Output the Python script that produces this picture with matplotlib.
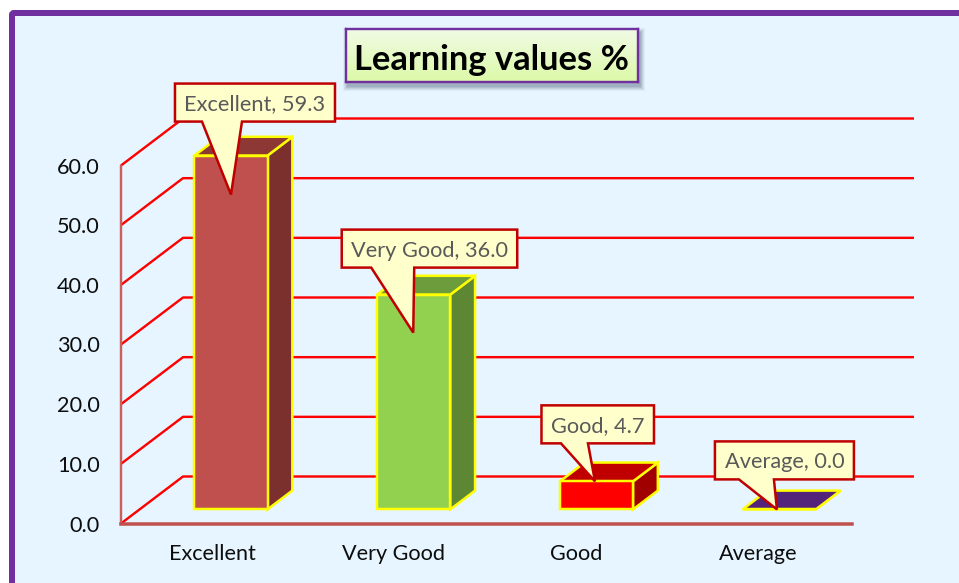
import numpy as np
import matplotlib
matplotlib.use("Agg")
import matplotlib.pyplot as plt
from matplotlib.patches import Polygon, Rectangle, FancyBboxPatch
from matplotlib.transforms import Affine2D

# ---- data ----
categories = ["Excellent", "Very Good", "Good", "Average"]
values = [59.3, 36.0, 4.7, 0.0]
y_ticks = [0, 10, 20, 30, 40, 50, 60]
y_tick_labels = ["0.0", "10.0", "20.0", "30.0", "40.0", "50.0", "60.0"]
title_text = "Learning values %"

# ---- style ----
W, H = 959, 583
front_colors = ["#C0504D", "#92D050", "#FF0000", "#7030A0"]
top_colors = ["#8E3836", "#6D9C3C", "#C00000", "#54247A"]
side_colors = ["#7B302E", "#5E8733", "#A00000", "#54247A"]
BG = "#E6F5FF"
PURPLE = "#7030A0"
plt.rcParams["font.family"] = ["Lato", "DejaVu Sans"]
px = 72 / 100  # points per pixel

fig = plt.figure(figsize=(W / 100, H / 100), dpi=100, facecolor="white")
PIX = Affine2D().scale(1, -1).translate(0, H)  # pixel coordinates, y down

# outer frame
fig.add_artist(FancyBboxPatch((12, 13), 1000, 620, boxstyle="round,pad=0,rounding_size=2",
                              transform=PIX, fc=BG, ec=PURPLE, lw=6 * px, zorder=0))

# main axes: x slots -0.5..3.5 span 121..852 px, y 0..60 spans 523.5..165.5 px
L, R, B, T = 121, 852, 523.5, 165.5
ax = fig.add_axes([L / W, 1 - B / H, (R - L) / W, (B - T) / H], zorder=2)
ax.patch.set_alpha(0)
ax.set_xlim(-0.5, 3.5)
ax.set_ylim(0, 60)
for s in ax.spines.values():
    s.set_visible(False)

DX = 62 / 182.75  # full depth of the 3D floor, in x units
DY = 47 / 5.967   # full depth of the 3D floor, in y units
def proj(x, y, d):
    return x + d * DX, y + d * DY

ax.set_xticks(range(len(categories)), categories)
ax.set_yticks(y_ticks, y_tick_labels)
ax.tick_params(axis="both", length=0, labelsize=15.6, labelcolor="#0D0D0D")
ax.tick_params(axis="x", pad=15)
ax.tick_params(axis="y", pad=15.5)
for lbl, shift in zip(ax.get_xticklabels(), (0, -2, -2, -2)):
    lbl.set_transform(lbl.get_transform() + Affine2D().translate(shift, 0))

# walls and grid
x0, x1 = -0.5, 3.5
for v in y_ticks:
    xs, ys = zip(proj(x0, v, 0), proj(x0, v, 1), proj(x1, v, 1))
    ax.plot(xs, ys, color="#FF0000", lw=2.4 * px, clip_on=False, zorder=2,
            solid_joinstyle="round", solid_capstyle="butt")
ax.plot([x0, x0], [0, 60], color="#C9605D", lw=2.4 * px, clip_on=False, zorder=3)
ax.plot([x0, x1], [0, 0], color="#C0504D", lw=3.5 * px, clip_on=False, zorder=3)

# 3D bars
HALF = 0.2
D0, D1 = 0.30, 0.70
for i, v in enumerate(values):
    a, b = i - HALF, i + HALF
    front = [proj(a, 0, D0), proj(b, 0, D0), proj(b, v, D0), proj(a, v, D0)]
    top = [proj(a, v, D0), proj(b, v, D0), proj(b, v, D1), proj(a, v, D1)]
    side = [proj(b, 0, D0), proj(b, 0, D1), proj(b, v, D1), proj(b, v, D0)]
    for pts, col in ((side, side_colors[i]), (top, top_colors[i]), (front, front_colors[i])):
        ax.add_patch(Polygon(pts, closed=True, fc=col, ec="#FFFF00", lw=2.5 * px,
                             joinstyle="miter", clip_on=False, zorder=5))

# callouts: box and pointer base relative to the pointer tip, in pixels
tip_drop = [39, 38, 0, 0]
tip_shift = [0, -0.5, -1.5, -2.3]
boxes = [(-56, 104, -111, -73, -29, 11),
         (-71.5, 104, -103, -65, -42, 1),
         (-53.5, 59, -76, -38, -34, -7),
         (-62, 77, -68, -30, -38, -3)]
for i, v in enumerate(values):
    dx_, dy_ = ax.transData.transform(proj(i, v, D0))
    tx, ty = dx_ + tip_shift[i], H - dy_ + tip_drop[i]
    l, r, t, b, b0, b1 = boxes[i]
    pts = [(tx + l, ty + t), (tx + r, ty + t), (tx + r, ty + b), (tx + b1, ty + b), (tx, ty),
           (tx + b0, ty + b), (tx + l, ty + b)]
    ax.add_patch(Polygon(pts, closed=True, transform=PIX, fc="#FFFFCC", ec="#C00000",
                         lw=2.5 * px, joinstyle="miter", clip_on=False, zorder=8))
    ax.text(tx + (l + r) / 2, ty + (t + b) / 2, f"{categories[i]}, {v:.1f}", transform=PIX,
            ha="center", va="center_baseline", fontsize=15.7, color="#595959", zorder=9)

# title box with gradient and soft shadow
tl, tr, tt, tb = 345.5, 638, 28.5, 82
for k, a in zip((5, 4, 3, 2, 1), (0.06, 0.08, 0.10, 0.12, 0.14)):
    ax.add_patch(Rectangle((tl - k + 2, tt - k + 4), tr - tl + 2 * k, tb - tt + 2 * k, transform=PIX,
                           fc="#44546A", ec="none", alpha=a, clip_on=False, zorder=10))
tax = fig.add_axes([tl / W, 1 - tb / H, (tr - tl) / W, (tb - tt) / H], zorder=3)
c_top = np.array([0xF1, 0xFB, 0xE6]) / 255
c_bot = np.array([0xDC, 0xF9, 0xA8]) / 255
grad = np.linspace(0, 1, 64)[:, None, None]
tax.imshow(c_top * (1 - grad) + c_bot * grad, aspect="auto", extent=(0, 1, 0, 1))
tax.set_xticks([]); tax.set_yticks([])
for s in tax.spines.values():
    s.set_color(PURPLE); s.set_linewidth(2.4 * px)
tax.text(0.5, 0.46, title_text, transform=tax.transAxes, ha="center", va="center_baseline",
         fontsize=24.8, fontweight="bold", color="black")

fig.savefig("out.png", dpi=100)
